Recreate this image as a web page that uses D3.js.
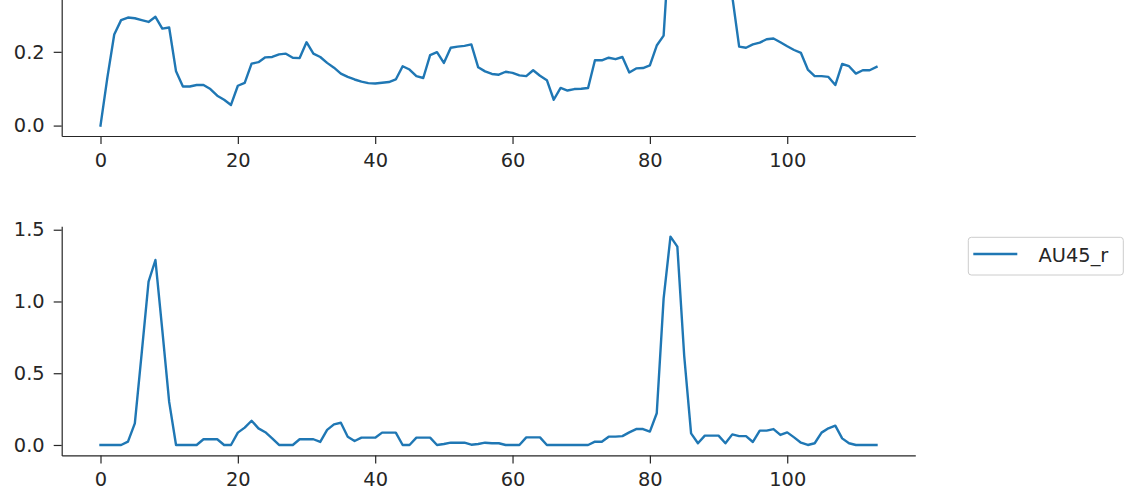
<!DOCTYPE html>
<html>
<head>
<meta charset="utf-8">
<script src="https://cdn.jsdelivr.net/npm/d3@7"></script>
<style>
  html, body { margin: 0; padding: 0; background: #fff; }
  svg { display: block; }
  text { font-family: "DejaVu Sans", sans-serif; }
</style>
</head>
<body>
<svg id="chart" width="1136" height="501"></svg>
<script>
// ---- data ----
const frames = d3.range(0, 114);
const topSeriesValues = [
  0, 0.13, 0.247, 0.286, 0.293, 0.291, 0.286, 0.281, 0.295, 0.263,
  0.266, 0.147, 0.106, 0.106, 0.110, 0.110, 0.099, 0.081, 0.070, 0.056,
  0.108, 0.116, 0.168, 0.172, 0.185, 0.186, 0.193, 0.195, 0.184, 0.183,
  0.226, 0.195, 0.186, 0.170, 0.157, 0.141, 0.132, 0.125, 0.119, 0.115,
  0.114, 0.116, 0.118, 0.125, 0.161, 0.152, 0.134, 0.129, 0.191, 0.199,
  0.170, 0.211, 0.214, 0.216, 0.220, 0.158, 0.147, 0.140, 0.138, 0.146,
  0.143, 0.136, 0.134, 0.150, 0.135, 0.123, 0.070, 0.102, 0.095, 0.099,
  0.100, 0.102, 0.177, 0.177, 0.184, 0.180, 0.186, 0.144, 0.155, 0.156,
  0.163, 0.217, 0.244, 0.54, 0.565, 0.55, 0.52, 0.54, 0.53, 0.50,
  0.48, 0.45, 0.35, 0.214, 0.211, 0.220, 0.225, 0.234, 0.236, 0.226,
  0.215, 0.205, 0.197, 0.152, 0.134, 0.134, 0.132, 0.110, 0.167, 0.161,
  0.141, 0.150, 0.150, 0.159
];
const au45Values = [
  0, 0, 0, 0, 0.023, 0.151, 0.64, 1.138, 1.289, 0.80,
  0.30, 0, 0, 0, 0, 0.04, 0.04, 0.04, 0, 0,
  0.086, 0.121, 0.169, 0.116, 0.089, 0.046, 0, 0, 0, 0.04,
  0.04, 0.04, 0.021, 0.105, 0.144, 0.155, 0.058, 0.028, 0.051, 0.051,
  0.051, 0.086, 0.086, 0.086, 0, 0, 0.051, 0.051, 0.051, 0,
  0.007, 0.016, 0.016, 0.016, 0.002, 0.007, 0.016, 0.012, 0.012, 0,
  0, 0, 0.053, 0.053, 0.053, 0, 0, 0, 0, 0,
  0, 0, 0.023, 0.023, 0.058, 0.058, 0.062, 0.088, 0.111, 0.111,
  0.093, 0.221, 1.02, 1.452, 1.382, 0.62, 0.081, 0.012, 0.065, 0.065,
  0.065, 0.012, 0.074, 0.062, 0.062, 0.021, 0.100, 0.100, 0.111, 0.070,
  0.088, 0.053, 0.016, 0, 0.012, 0.086, 0.116, 0.135, 0.046, 0.012,
  0, 0, 0, 0
];
const xTicks = [0, 20, 40, 60, 80, 100];
const topYTicks = [0.0, 0.2];
const bottomYTicks = [0.0, 0.5, 1.0, 1.5];
const legendLabel = "AU45_r";

// ---- layout ----
const svg = d3.select("#chart");
const color = "#1f77b4";
const ink = "#262626";
const fontSize = 19.4;
const axLeft = 61.7, axRight = 915.3, axH = 229.2;
const panels = [
  { values: topSeriesValues, bottom: 136.0, ticks: topYTicks },
  { values: au45Values, bottom: 455.4, ticks: bottomYTicks }
];

function padDomain(lo, hi) {
  const r = hi - lo;
  return [lo - 0.05 * r, hi + 0.05 * r];
}

const xDom = padDomain(d3.min(frames), d3.max(frames));
const x = d3.scaleLinear().domain(xDom).range([axLeft, axRight]);

panels.forEach((p, idx) => {
  const yDom = padDomain(d3.min(p.values), d3.max(p.values));
  const y = d3.scaleLinear().domain(yDom).range([p.bottom, p.bottom - axH]);
  const g = svg.append("g");

  const clipId = "clip" + idx;
  svg.append("clipPath").attr("id", clipId).append("rect")
    .attr("x", axLeft).attr("y", p.bottom - axH).attr("width", axRight - axLeft).attr("height", axH);
  g.append("path")
    .datum(frames.map((f, i) => [f, p.values[i]]))
    .attr("clip-path", `url(#${clipId})`)
    .attr("fill", "none")
    .attr("stroke", color)
    .attr("stroke-width", 2.4)
    .attr("stroke-linejoin", "round")
    .attr("stroke-linecap", "square")
    .attr("d", d3.line().x(d => x(d[0])).y(d => y(d[1])));

  const xa = g.append("g").attr("transform", `translate(0,${p.bottom})`)
    .call(d3.axisBottom(x).tickValues(xTicks).tickFormat(d3.format("d")).tickSize(8).tickPadding(9).tickSizeOuter(0));
  const ya = g.append("g").attr("transform", `translate(${axLeft},0)`)
    .call(d3.axisLeft(y).tickValues(p.ticks).tickFormat(d3.format(".1f")).tickSize(8).tickPadding(9).tickSizeOuter(0));

  [xa, ya].forEach(a => {
    a.select(".domain").attr("stroke", ink).attr("stroke-width", 1.2);
    a.selectAll(".tick line").attr("stroke", ink).attr("stroke-width", 1.2);
    a.selectAll(".tick text").attr("fill", ink).style("font-size", fontSize + "px").style("font-family", "DejaVu Sans");
  });
});

// legend (bottom panel)
const lg = svg.append("g");
lg.append("rect")
  .attr("x", 968.3).attr("y", 237.3).attr("width", 155).attr("height", 37.7)
  .attr("rx", 3).attr("ry", 3)
  .attr("fill", "#fff").attr("fill-opacity", 0.8)
  .attr("stroke", "#cccccc").attr("stroke-width", 1);
lg.append("line")
  .attr("x1", 973.3).attr("x2", 1017.3).attr("y1", 254).attr("y2", 254)
  .attr("stroke", color).attr("stroke-width", 2.4);
lg.append("text")
  .attr("x", 1038.5).attr("y", 261.7)
  .attr("fill", ink)
  .style("font-size", fontSize + "px")
  .text(legendLabel);
</script>
</body>
</html>
